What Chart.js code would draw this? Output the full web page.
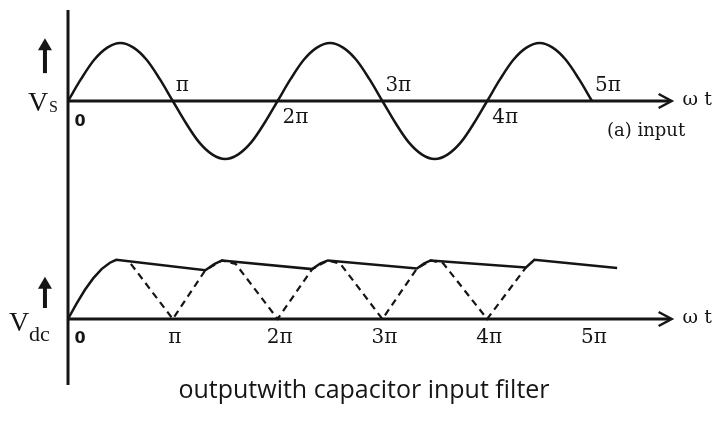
<!DOCTYPE html>
<html lang="en">
<head>
    <meta charset="UTF-8">
    <title>Output with capacitor input filter</title>
    <script src="https://cdn.jsdelivr.net/npm/chart.js"></script>
    <style>
        html, body { margin: 0; padding: 0; background: #fff; }
        #wave { display: block; }
    </style>
</head>
<body>
    <canvas id="wave" width="717" height="422"></canvas>

    <script>
        // x values are in multiples of pi (omega t / pi)
        const inputX = [0, 0.125, 0.25, 0.375, 0.5, 0.625, 0.75, 0.875,
            1, 1.125, 1.25, 1.375, 1.5, 1.625, 1.75, 1.875,
            2, 2.125, 2.25, 2.375, 2.5, 2.625, 2.75, 2.875,
            3, 3.125, 3.25, 3.375, 3.5, 3.625, 3.75, 3.875,
            4, 4.125, 4.25, 4.375, 4.5, 4.625, 4.75, 4.875, 5];
        const inputV = [0, 0.38, 0.71, 0.92, 1, 0.92, 0.71, 0.38,
            0, -0.38, -0.71, -0.92, -1, -0.92, -0.71, -0.38,
            0, 0.38, 0.71, 0.92, 1, 0.92, 0.71, 0.38,
            0, -0.38, -0.71, -0.92, -1, -0.92, -0.71, -0.38,
            0, 0.38, 0.71, 0.92, 1, 0.92, 0.71, 0.38, 0];

        // rectified wave without filter (dashed)
        const rectX = [0.6, 1, 1.31, 1.47, 1.6, 2, 2.33, 2.48, 2.6, 3, 3.33, 3.46, 3.58, 4, 4.37];
        const rectV = [0.95, 0, 0.84, 1.01, 0.95, 0, 0.86, 1.01, 0.95, 0, 0.87, 1.01, 0.96, 0, 0.89];

        // output with capacitor filter (solid)
        const filterX = [0, 0.08, 0.16, 0.24, 0.32, 0.4, 0.46, 1.31, 1.4, 1.47, 2.33, 2.41, 2.48,
            3.33, 3.4, 3.46, 4.37, 4.42, 4.45, 5.24];
        const filterV = [0, 0.26, 0.5, 0.7, 0.86, 0.97, 1.02, 0.84, 0.95, 1.01, 0.86, 0.96, 1.01,
            0.87, 0.96, 1.01, 0.89, 0.97, 1.02, 0.88];

        const topTicks = [0, 1, 2, 3, 4, 5];
        const tickLabels = ['0', 'π', '2π', '3π', '4π', '5π'];

        const ink = '#151515';
        const serif = '"DejaVu Serif", "Liberation Serif", serif';

        function pts(xs, ys) {
            return xs.map((x, i) => ({ x: x, y: ys[i] }));
        }

        const axesPlugin = {
            id: 'axesPlugin',
            afterDatasetsDraw(chart) {
                const ctx = chart.ctx;
                const sx = chart.scales.x, st = chart.scales.yTop, sb = chart.scales.yBot;
                const x0 = sx.getPixelForValue(0);
                const xEnd = sx.getPixelForValue(5.76);
                ctx.save();
                ctx.strokeStyle = ink;
                ctx.fillStyle = ink;
                ctx.lineCap = 'butt';

                // vertical axis
                ctx.lineWidth = 3;
                ctx.beginPath();
                ctx.moveTo(x0, st.getPixelForValue(1.57));
                ctx.lineTo(x0, sb.getPixelForValue(-1.14));
                ctx.stroke();

                // horizontal axes with open arrow heads
                [st, sb].forEach(s => {
                    const y = s.getPixelForValue(0);
                    ctx.lineWidth = 3;
                    ctx.beginPath();
                    ctx.moveTo(x0, y);
                    ctx.lineTo(xEnd - 2, y);
                    ctx.stroke();
                    ctx.lineWidth = 2.5;
                    ctx.beginPath();
                    ctx.moveTo(xEnd - 13, y - 7);
                    ctx.lineTo(xEnd, y);
                    ctx.lineTo(xEnd - 13, y + 7);
                    ctx.stroke();
                    ctx.font = '19px ' + serif;
                    ctx.textAlign = 'left';
                    ctx.textBaseline = 'middle';
                    ctx.fillText('ω t', xEnd + 11, y - 1);
                });

                // up arrows
                [[st, 0.48, 1.08], [sb, 0.19, 0.73]].forEach(a => {
                    const ax = sx.getPixelForValue(-0.22);
                    const yb = a[0].getPixelForValue(a[1]);
                    const yt = a[0].getPixelForValue(a[2]);
                    ctx.lineWidth = 4;
                    ctx.beginPath();
                    ctx.moveTo(ax, yb);
                    ctx.lineTo(ax, yt + 10);
                    ctx.stroke();
                    ctx.beginPath();
                    ctx.moveTo(ax - 7, yt + 12);
                    ctx.lineTo(ax, yt);
                    ctx.lineTo(ax + 7, yt + 12);
                    ctx.closePath();
                    ctx.fill();
                });

                // tick labels, top (alternating above/below)
                const piFont = '20px ' + serif;
                const zeroFont = 'bold 16px "DejaVu Sans", sans-serif';
                ctx.textBaseline = 'middle';
                topTicks.forEach((t, i) => {
                    const px = sx.getPixelForValue(t);
                    const py = st.getPixelForValue(0);
                    if (i === 0) {
                        ctx.font = zeroFont;
                        ctx.textAlign = 'center';
                        ctx.fillText(tickLabels[i], px + 12, py + 21);
                    } else if (i % 2 === 1) {
                        ctx.font = piFont;
                        ctx.textAlign = 'left';
                        ctx.fillText(tickLabels[i], px + 3, py - 15);
                    } else {
                        ctx.font = piFont;
                        ctx.textAlign = 'left';
                        ctx.fillText(tickLabels[i], px + 5, py + 17);
                    }
                });

                // tick labels, bottom
                topTicks.forEach((t, i) => {
                    const px = sx.getPixelForValue(t);
                    const py = sb.getPixelForValue(0) + 19;
                    ctx.textAlign = 'center';
                    if (i === 0) {
                        ctx.font = zeroFont;
                        ctx.fillText(tickLabels[i], px + 12, py + 1);
                    } else {
                        ctx.font = piFont;
                        ctx.fillText(tickLabels[i], px + 2, py);
                    }
                });

                // y labels
                ctx.textAlign = 'left';
                ctx.textBaseline = 'alphabetic';
                const yTopPx = st.getPixelForValue(0);
                ctx.font = '28px "Liberation Serif", serif';
                ctx.fillText('V', 28, yTopPx + 10);
                ctx.font = '16px "Liberation Serif", serif';
                ctx.fillText('S', 49, yTopPx + 11);
                const yBotPx = sb.getPixelForValue(0);
                ctx.font = '28px "Liberation Serif", serif';
                ctx.fillText('V', 9, yBotPx + 12);
                ctx.font = '22px "Liberation Serif", serif';
                ctx.fillText('dc', 29, yBotPx + 22);

                ctx.font = '18px ' + serif;
                ctx.fillText('(a) input', 607, yTopPx + 35);

                // caption
                ctx.font = '25px "Open Sans", "Noto Sans", sans-serif';
                ctx.textAlign = 'center';
                ctx.fillText('outputwith capacitor input filter', 364, 398);
                ctx.restore();
            }
        };

        new Chart(document.getElementById('wave'), {
            type: 'line',
            data: {
                datasets: [{
                    label: 'input',
                    data: pts(inputX, inputV),
                    yAxisID: 'yTop',
                    borderColor: ink,
                    borderWidth: 2.5,
                    cubicInterpolationMode: 'monotone',
                    pointRadius: 0
                }, {
                    label: 'rectified',
                    data: pts(rectX, rectV),
                    yAxisID: 'yBot',
                    borderColor: ink,
                    borderWidth: 2.2,
                    borderDash: [7, 5],
                    tension: 0,
                    pointRadius: 0
                }, {
                    label: 'filtered',
                    data: pts(filterX, filterV),
                    yAxisID: 'yBot',
                    borderColor: ink,
                    borderWidth: 2.5,
                    tension: 0,
                    pointRadius: 0
                }]
            },
            options: {
                responsive: false,
                animation: false,
                layout: { padding: 0 },
                plugins: {
                    legend: { display: false },
                    tooltip: { enabled: false }
                },
                scales: {
                    x: { type: 'linear', min: -0.649, max: 6.193, display: false },
                    yTop: { type: 'linear', min: -5.534, max: 1.741, display: false },
                    yBot: { type: 'linear', min: -1.776, max: 5.5, display: false }
                }
            },
            plugins: [axesPlugin]
        });
    </script>
</body>
</html>
